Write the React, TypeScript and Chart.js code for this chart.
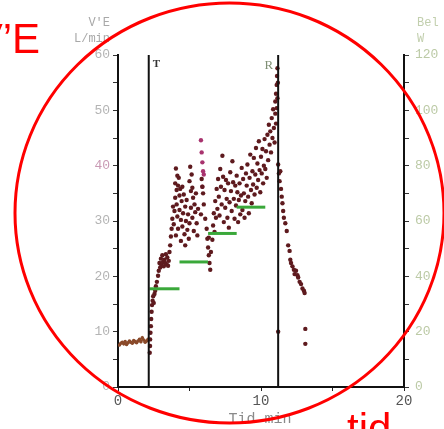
import React, { useEffect, useRef } from 'react';
import { Chart, registerables } from 'chart.js';
Chart.register(...registerables);

// Rest phase (before T)
const restTime = [0.1, 0.2, 0.3, 0.4, 0.5, 0.6, 0.7, 0.8, 0.9, 1.0, 1.1, 1.2, 1.3, 1.4, 1.5, 1.6, 1.7, 1.8, 1.9, 2.0, 2.1];
const restVE = [7.6, 7.9, 8.1, 7.8, 8.2, 7.7, 8.0, 8.3, 8.1, 7.9, 8.4, 8.2, 8.0, 8.3, 8.6, 8.2, 8.9, 8.5, 8.1, 8.3, 8.6];

// Exercise phase (T -> R)
const exTime = [
  2.22, 2.24, 2.25, 2.27, 2.3, 2.32, 2.35, 2.38, 2.42, 2.46, 2.5, 2.55, 2.6, 2.65, 2.72, 2.8, 2.85, 2.9, 2.95, 3.0,
  3.05, 3.1, 3.15, 3.2, 3.25, 3.3, 3.35, 3.4, 3.45, 3.5, 3.55, 3.6, 3.65, 3.7, 3.75, 3.8, 3.85, 3.9, 3.95, 4.0,
  4.0, 4.05, 4.05, 4.1, 4.1, 4.15, 4.15, 4.2, 4.2, 4.25, 4.3, 4.3, 4.35, 4.4, 4.4, 4.45, 4.5, 4.5, 4.55, 4.6,
  4.65, 4.7, 4.7, 4.75, 4.8, 4.85, 4.9, 4.95, 5.0, 5.0, 5.05, 5.1, 5.1, 5.15, 5.2, 5.2, 5.25, 5.3, 5.35, 5.4,
  5.45, 5.5, 5.55, 5.6, 5.85, 5.9, 5.95, 6.0, 5.8, 6.1, 6.2, 6.25, 6.3, 6.35, 6.4, 6.45, 6.35, 6.5,
  6.6, 6.65, 6.7, 6.75, 6.8, 6.85, 6.9, 6.95, 7.0, 7.05, 7.1, 7.15, 7.2, 7.25, 7.3, 7.35, 7.4, 7.45, 7.5, 7.55,
  7.6, 7.65, 7.7, 7.75, 7.8, 7.85, 7.9, 7.95, 8.0, 8.05, 8.1, 8.15, 8.2, 8.25, 8.3, 8.35, 8.4, 8.45, 8.5, 8.55,
  8.6, 8.65, 8.7, 8.75, 8.8, 8.85, 8.9, 8.95, 9.0, 9.05, 9.1, 9.15, 9.2, 9.25, 9.3, 9.35, 9.4, 9.45, 9.5, 9.55,
  9.6, 9.65, 9.7, 9.75, 9.8, 9.85, 9.9, 9.95, 10.0, 10.05, 10.1, 10.15, 10.2, 10.25, 10.3, 10.35, 10.4, 10.45,
  10.5, 10.55, 10.6, 10.65, 10.7, 10.75, 10.8, 10.85, 10.9, 10.95, 11.0, 11.0, 11.05, 11.05, 11.1, 11.1, 11.12, 11.15, 11.15, 11.18
];
const exVE = [
  6.2, 7.4, 8.6, 9.8, 11.0, 12.3, 13.6, 14.8, 15.6, 16.4, 15.2, 16.8, 17.4, 18.2, 19.0, 20.1, 21.0, 22.4, 21.6, 23.2,
  22.0, 23.8, 22.6, 21.8, 23.0, 22.4, 24.0, 22.2, 23.4, 21.9, 22.8, 24.4, 25.6, 27.2, 28.6, 30.4, 32.6, 29.4, 31.8, 34.2,
  36.8, 39.5, 27.4, 35.6, 33.0, 38.2, 30.8, 36.4, 28.6, 37.8, 34.6, 32.0, 35.8, 30.2, 26.4, 33.6, 36.2, 29.0, 31.4, 34.8,
  27.6, 32.6, 25.6, 30.0, 33.8, 28.4, 31.2, 26.8, 29.6, 37.2, 39.8, 35.4, 32.4, 38.4, 36.0, 30.6, 34.2, 28.2, 33.0, 31.6,
  35.0, 29.6, 27.4, 32.2, 37.6, 36.2, 35.0, 33.0, 31.2, 30.4, 28.6, 26.8, 25.2, 23.8, 22.4, 21.2, 27.0, 24.4,
  26.6, 29.2, 31.4, 28.0, 33.6, 30.6, 35.8, 32.2, 37.6, 34.4, 31.0, 39.4, 36.2, 33.0, 41.8, 38.0, 29.8, 35.6, 32.4, 37.4,
  34.0, 30.6, 36.8, 28.8, 33.4, 38.8, 35.4, 31.8, 40.8, 37.0, 34.0, 30.4, 36.4, 32.8, 38.2, 35.2, 29.8, 33.8, 36.8, 31.2,
  34.6, 39.6, 32.0, 37.6, 35.0, 30.6, 33.6, 38.6, 36.4, 40.2, 34.4, 31.4, 37.8, 42.0, 35.6, 33.2, 39.0, 36.6, 41.4, 34.8,
  38.4, 43.2, 36.0, 40.4, 37.4, 44.4, 39.2, 35.2, 41.6, 38.6, 43.0, 36.8, 40.0, 44.8, 39.4, 42.6, 37.8, 45.6,
  41.0, 47.4, 43.8, 46.2, 42.4, 48.6, 45.0, 50.2, 46.8, 44.2, 49.4, 51.6, 47.6, 53.0, 54.6, 50.4, 56.2, 52.2, 57.6, 55.0
];

// Lighter (magenta) points in the exercise cloud
const pinkTime = [5.8, 5.85, 5.9, 5.95, 6.0, 5.9];
const pinkVE = [44.6, 42.4, 40.6, 39.0, 38.4, 36.2];

// Recovery phase (after R)
const recTime = [11.2, 11.25, 11.3, 11.35, 11.4, 11.45, 11.5, 11.55, 11.6, 11.7, 11.8, 11.9, 12.0, 12.05, 12.1, 12.2, 12.3, 12.35, 12.45, 12.55, 12.6, 12.7, 12.8, 12.9, 13.0, 13.05, 11.2, 13.1, 13.1];
const recVE = [40.2, 38.6, 37.2, 39.0, 35.8, 34.4, 33.2, 31.8, 30.6, 29.6, 28.2, 25.6, 24.6, 23.0, 22.4, 21.8, 21.2, 20.4, 21.0, 20.2, 19.8, 19.0, 18.6, 17.8, 17.4, 17.0, 10.0, 10.5, 7.8];

// Workload steps (right axis, W)
const stepStart = [2.2, 4.3, 6.3, 8.3];
const stepEnd = [4.3, 6.3, 8.3, 10.3];
const stepLoad = [35.5, 45.2, 55.5, 65];

// Event markers
const markerTimes = [2.15, 11.2];
const markerLabels = ['T', 'R'];

const xTicks = [0, 10, 20];
const mono = '"Liberation Mono", "DejaVu Sans Mono", monospace';

export default function App() {
  const ref = useRef<HTMLCanvasElement>(null);
  useEffect(() => {
    document.body.style.margin = '0';
    const pts = (xs: number[], ys: number[]) => xs.map((x, i) => ({ x, y: ys[i] }));
    const datasets: any[] = [];
    markerTimes.forEach((t) => {
      datasets.push({
        type: 'line', data: [{ x: t, y: 0 }, { x: t, y: 60 }], yAxisID: 'y',
        borderColor: '#111', borderWidth: 2, pointRadius: 0, clip: false,
      });
    });
    stepStart.forEach((s, i) => {
      datasets.push({
        type: 'line', data: [{ x: s, y: stepLoad[i] }, { x: stepEnd[i], y: stepLoad[i] }], yAxisID: 'y2',
        borderColor: '#3aa83a', borderWidth: 3, pointRadius: 0,
      });
    });
    datasets.push({
      type: 'line', data: pts(restTime, restVE), yAxisID: 'y', showLine: true,
      borderColor: '#b0703a', borderWidth: 2, pointRadius: 1.8, pointBackgroundColor: '#8a4a2a', pointBorderWidth: 0,
    });
    datasets.push({
      type: 'scatter', data: pts(exTime, exVE), yAxisID: 'y',
      pointRadius: 2.2, backgroundColor: '#5e1a1e', borderWidth: 0,
    });
    datasets.push({
      type: 'scatter', data: pts(pinkTime, pinkVE), yAxisID: 'y',
      pointRadius: 2.2, backgroundColor: '#a8336e', borderWidth: 0,
    });
    datasets.push({
      type: 'scatter', data: pts(recTime, recVE), yAxisID: 'y',
      pointRadius: 2.2, backgroundColor: '#5e1a1e', borderWidth: 0,
    });

    const overlay = {
      id: 'overlay',
      afterDraw(chart: any) {
        const c = chart.ctx;
        const xs = chart.scales.x;
        const area = chart.chartArea;
        c.save();
        // marker labels
        c.font = 'bold 11px "Liberation Serif", serif';
        c.textBaseline = 'alphabetic';
        markerLabels.forEach((lab, i) => {
          const px = xs.getPixelForValue(markerTimes[i]);
          if (i === 0) {
            c.fillStyle = '#333';
            c.textAlign = 'left';
            c.fillText(lab, px + 4, area.top + 12);
          } else {
            c.fillStyle = '#7f8f74';
            c.font = '13px "Liberation Serif", serif';
            c.textAlign = 'right';
            c.fillText(lab, px - 5, area.top + 14);
          }
        });
        // axis titles
        c.font = '12px ' + mono;
        c.fillStyle = '#a8a8a8';
        c.textAlign = 'right';
        c.fillText("V'E", 110, 26);
        c.fillText('L/min', 110, 42);
        c.fillStyle = '#c2cfae';
        c.textAlign = 'left';
        c.fillText('Bel', 417, 26);
        c.fillText('W', 417, 42);
        c.font = '15px ' + mono;
        c.fillStyle = '#8a8a8a';
        c.textAlign = 'center';
        c.fillText('Tid min', 260, 423);
        // red annotation
        c.strokeStyle = '#ff0000';
        c.lineWidth = 3;
        c.beginPath();
        c.ellipse(229.5, 213, 214.5, 210, 0, 0, Math.PI * 2);
        c.stroke();
        c.fillStyle = '#ff0000';
        c.font = '42px "Liberation Sans", Arial, sans-serif';
        c.textAlign = 'right';
        c.fillText('V\u2019E', 40, 53);
        c.textAlign = 'left';
        c.fillText('tid', 347, 443);
        c.restore();
      },
    };

    const chart = new Chart(ref.current as HTMLCanvasElement, {
      type: 'scatter',
      data: { datasets },
      options: {
        animation: false,
        responsive: false,
        layout: { padding: { top: 55, left: 0, right: 0, bottom: 0 } },
        plugins: { legend: { display: false }, tooltip: { enabled: false } },
        scales: {
          x: {
            type: 'linear', min: 0, max: 20,
            afterFit: (s: any) => { s.height = 42; },
            border: { display: true, color: '#111', width: 2 },
            grid: { display: true, drawOnChartArea: false, drawTicks: true, tickLength: 4, color: '#222' },
            ticks: {
              stepSize: 5, autoSkip: false, maxRotation: 0, padding: 2,
              color: '#555', font: { family: mono, size: 14 },
              callback: (v: any) => (xTicks.includes(Number(v)) ? String(v) : ''),
            },
          },
          y: {
            type: 'linear', position: 'left', min: 0, max: 60,
            afterFit: (s: any) => { s.width = 118; },
            border: { display: true, color: '#111', width: 2 },
            grid: { display: true, drawOnChartArea: false, drawTicks: true, tickLength: 5, color: '#333' },
            ticks: {
              stepSize: 5, autoSkip: false, padding: 3,
              color: (ctx: any) => (ctx.tick && ctx.tick.value === 40 ? '#c99ab4' : '#b4b4b4'),
              font: { family: mono, size: 13 },
              callback: (v: any) => (Number(v) % 10 === 0 ? String(v) : ''),
            },
          },
          y2: {
            type: 'linear', position: 'right', min: 0, max: 120,
            afterFit: (s: any) => { s.width = 40; },
            border: { display: true, color: '#111', width: 2 },
            grid: { display: true, drawOnChartArea: false, drawTicks: true, tickLength: 5, color: '#333' },
            ticks: {
              stepSize: 10, autoSkip: false, padding: 6,
              color: '#bccaa6', font: { family: mono, size: 13 },
              callback: (v: any) => (Number(v) % 20 === 0 ? String(v) : ''),
            },
          },
        },
      },
      plugins: [overlay],
    } as any);
    return () => chart.destroy();
  }, []);
  return (
    <div style={{ position: 'relative', width: 444, height: 429 }}>
      <canvas ref={ref} width={444} height={429} style={{ display: 'block' }} />
    </div>
  );
}
